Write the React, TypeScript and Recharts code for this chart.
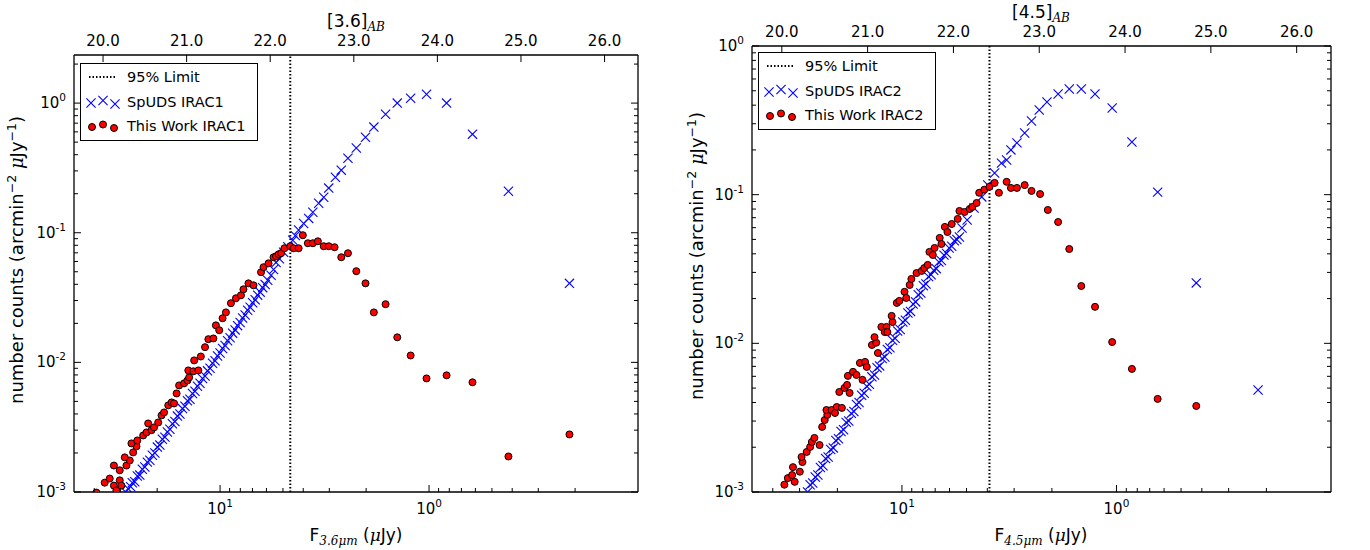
import { ScatterChart, Scatter, XAxis, YAxis, ReferenceLine, Legend } from 'recharts'

const SANS = '"DejaVu Sans", sans-serif'
const MATH = '"DejaVu Serif", serif'

// x values are AB magnitudes (top axis), y values are number counts (arcmin^-2 uJy^-1)
const spudsIrac1: [number, number][] = [
  [20.27, 0.001], [20.3, 0.00106], [20.33, 0.0011], [20.35, 0.00118], [20.38, 0.0012], [20.41, 0.00133],
  [20.44, 0.00135], [20.47, 0.0015], [20.5, 0.00156], [20.53, 0.0017], [20.56, 0.00176], [20.59, 0.00192],
  [20.62, 0.002], [20.65, 0.00222], [20.68, 0.0023], [20.71, 0.00255], [20.74, 0.00265], [20.77, 0.0029],
  [20.8, 0.00305], [20.83, 0.00336], [20.86, 0.0035], [20.89, 0.00385], [20.92, 0.004], [20.95, 0.0044],
  [20.98, 0.00458], [21.01, 0.00505], [21.04, 0.0052], [21.07, 0.00575], [21.1, 0.00598], [21.13, 0.00655],
  [21.16, 0.0069], [21.19, 0.0075], [21.22, 0.00785], [21.25, 0.0086], [21.28, 0.009], [21.31, 0.00985],
  [21.34, 0.0103], [21.37, 0.0112], [21.4, 0.0118], [21.43, 0.0128], [21.46, 0.0135], [21.49, 0.0147],
  [21.52, 0.0155], [21.55, 0.0168], [21.58, 0.0178], [21.61, 0.0192], [21.64, 0.0203], [21.67, 0.022],
  [21.7, 0.0232], [21.73, 0.0252], [21.76, 0.0266], [21.79, 0.0288], [21.82, 0.0304], [21.85, 0.033],
  [21.88, 0.0348], [21.91, 0.0377], [21.94, 0.0398], [21.97, 0.043], [22.01, 0.047], [22.04, 0.052],
  [22.07, 0.059], [22.11, 0.063], [22.16, 0.0707], [22.21, 0.078], [22.27, 0.0875], [22.3, 0.095],
  [22.34, 0.105], [22.4, 0.118], [22.46, 0.129], [22.51, 0.144], [22.58, 0.169], [22.64, 0.188],
  [22.7, 0.221], [22.78, 0.268], [22.85, 0.304], [22.93, 0.376], [23.03, 0.45], [23.14, 0.546],
  [23.24, 0.653], [23.38, 0.82], [23.52, 1.0], [23.68, 1.09], [23.87, 1.17], [24.11, 1.0],
  [24.42, 0.576], [24.85, 0.209], [25.58, 0.0407],
]

const oursIrac1: [number, number][] = [
  [19.92, 0.00099], [20.02, 0.00118], [20.08, 0.00127], [20.13, 0.00112], [20.16, 0.00103], [20.2, 0.00123],
  [20.22, 0.00112], [20.13, 0.0016], [20.2, 0.00147], [20.28, 0.0016], [20.32, 0.00175], [20.26, 0.00185],
  [20.36, 0.00202], [20.4, 0.00225], [20.34, 0.00237], [20.41, 0.0025], [20.48, 0.00273], [20.54, 0.00338],
  [20.52, 0.00288], [20.58, 0.003], [20.61, 0.00315], [20.66, 0.00344], [20.7, 0.0039], [20.73, 0.00411],
  [20.78, 0.00466], [20.82, 0.00491], [20.85, 0.00482], [20.88, 0.00576], [20.91, 0.00664], [20.97, 0.00689],
  [21.01, 0.00726], [21.03, 0.00766], [21.02, 0.00867], [21.08, 0.00853], [21.14, 0.00867], [21.09, 0.01036],
  [21.17, 0.0111], [21.22, 0.0131], [21.26, 0.0151], [21.32, 0.0153], [21.35, 0.0193], [21.39, 0.0177],
  [21.43, 0.0219], [21.47, 0.0243], [21.53, 0.0286], [21.59, 0.0312], [21.65, 0.0329], [21.68, 0.0366],
  [21.74, 0.0407], [21.8, 0.0393], [21.89, 0.0496], [21.92, 0.0542], [21.98, 0.0581], [22.04, 0.0647],
  [22.07, 0.0659], [22.1, 0.0682], [22.13, 0.0695], [22.17, 0.0759], [22.24, 0.0787], [22.28, 0.0759],
  [22.34, 0.0759], [22.39, 0.0957], [22.45, 0.083], [22.51, 0.083], [22.57, 0.0859], [22.64, 0.0787],
  [22.7, 0.0787], [22.77, 0.0773], [22.85, 0.0647], [22.93, 0.0695], [23.03, 0.0505], [23.14, 0.0407],
  [23.24, 0.0243], [23.38, 0.0281], [23.52, 0.0156], [23.68, 0.0113], [23.87, 0.00752], [24.11, 0.00794],
  [24.42, 0.00702], [24.85, 0.00188], [25.58, 0.00278],
]

const spudsIrac2: [number, number][] = [
  [20.3, 0.001], [20.33, 0.00112], [20.36, 0.00115], [20.39, 0.00126], [20.42, 0.0013], [20.45, 0.00146],
  [20.48, 0.0015], [20.51, 0.00168], [20.54, 0.00172], [20.57, 0.00193], [20.6, 0.00198], [20.63, 0.00222],
  [20.66, 0.00228], [20.69, 0.00255], [20.72, 0.00262], [20.75, 0.00294], [20.78, 0.003], [20.81, 0.00338],
  [20.84, 0.00348], [20.87, 0.00388], [20.9, 0.004], [20.93, 0.00448], [20.96, 0.00462], [20.99, 0.00515],
  [21.02, 0.0053], [21.05, 0.00595], [21.08, 0.00612], [21.11, 0.00685], [21.14, 0.00705], [21.17, 0.0079],
  [21.2, 0.0081], [21.23, 0.0091], [21.26, 0.00935], [21.29, 0.0105], [21.32, 0.0108], [21.35, 0.0121],
  [21.38, 0.0124], [21.41, 0.0139], [21.44, 0.0143], [21.47, 0.016], [21.5, 0.0164], [21.53, 0.0184],
  [21.56, 0.019], [21.59, 0.0212], [21.62, 0.0218], [21.65, 0.0244], [21.68, 0.0251], [21.71, 0.0281],
  [21.74, 0.0289], [21.77, 0.031], [21.8, 0.0318], [21.83, 0.0352], [21.86, 0.036], [21.89, 0.0392],
  [21.92, 0.0402], [21.95, 0.0438], [21.98, 0.045], [22.01, 0.049], [22.04, 0.05], [22.07, 0.0519],
  [22.1, 0.0597], [22.16, 0.0676], [22.24, 0.0814], [22.33, 0.0966], [22.4, 0.116], [22.48, 0.14],
  [22.56, 0.163], [22.62, 0.171], [22.67, 0.2], [22.74, 0.223], [22.83, 0.26], [22.91, 0.313],
  [23.0, 0.371], [23.09, 0.42], [23.22, 0.475], [23.35, 0.514], [23.49, 0.514], [23.65, 0.475],
  [23.85, 0.383], [24.08, 0.226], [24.38, 0.104], [24.83, 0.0255], [25.55, 0.00486],
]

const oursIrac2: [number, number][] = [
  [20.03, 0.00112], [20.07, 0.00124], [20.12, 0.0013], [20.15, 0.00117], [20.13, 0.00147], [20.21, 0.00137],
  [20.24, 0.00159], [20.23, 0.00172], [20.29, 0.00186], [20.33, 0.00201], [20.35, 0.00217], [20.38, 0.00231],
  [20.44, 0.00207], [20.47, 0.00274], [20.5, 0.00305], [20.53, 0.0033], [20.52, 0.00356], [20.58, 0.00356],
  [20.64, 0.00373], [20.62, 0.0034], [20.7, 0.00368], [20.67, 0.00471], [20.73, 0.00501], [20.79, 0.00464],
  [20.76, 0.00525], [20.77, 0.00604], [20.83, 0.00643], [20.87, 0.00613], [20.91, 0.00738], [20.97, 0.0075],
  [20.99, 0.00694], [20.94, 0.00568], [21.05, 0.00975], [21.1, 0.0101], [21.08, 0.011], [21.12, 0.00861],
  [21.16, 0.0129], [21.22, 0.0129], [21.2, 0.0119], [21.23, 0.0119], [21.29, 0.0139], [21.28, 0.0153],
  [21.34, 0.0187], [21.37, 0.0193], [21.43, 0.0222], [21.45, 0.0202], [21.49, 0.0247], [21.51, 0.0271],
  [21.57, 0.0297], [21.63, 0.0307], [21.66, 0.0321], [21.7, 0.0337], [21.72, 0.0412], [21.78, 0.0438],
  [21.76, 0.0393], [21.84, 0.0512], [21.86, 0.0466], [21.9, 0.0607], [21.93, 0.0561], [21.98, 0.0635],
  [22.05, 0.0687], [22.07, 0.0777], [22.13, 0.0765], [22.19, 0.0802], [22.22, 0.0826], [22.27, 0.0879],
  [22.3, 0.103], [22.36, 0.108], [22.42, 0.113], [22.48, 0.12], [22.53, 0.103], [22.62, 0.122],
  [22.67, 0.111], [22.74, 0.111], [22.83, 0.116], [22.91, 0.106], [23.01, 0.101], [23.1, 0.0789],
  [23.22, 0.0655], [23.35, 0.0431], [23.49, 0.0243], [23.65, 0.0176], [23.85, 0.0102], [24.08, 0.00673],
  [24.38, 0.00423], [24.83, 0.00379],
]

// 95% completeness limits, AB mag
const limitIrac1 = 22.24
const limitIrac2 = 22.42

const magTicks = [20, 21, 22, 23, 24, 25, 26]
const fluxTicks = [0.2, 0.3, 0.4, 0.5, 0.6, 0.7, 0.8, 0.9, 1, 2, 3, 4, 5, 6, 7, 8, 9, 10, 20, 30, 40]
const countTicks1 = [
  0.001, 0.002, 0.003, 0.004, 0.005, 0.006, 0.007, 0.008, 0.009,
  0.01, 0.02, 0.03, 0.04, 0.05, 0.06, 0.07, 0.08, 0.09,
  0.1, 0.2, 0.3, 0.4, 0.5, 0.6, 0.7, 0.8, 0.9, 1, 2,
]
const countTicks2 = countTicks1.filter(v => v <= 1)

const FLUX_MIN = 0.1
const FLUX_MAX = 50

const magToFlux = (m: number) => 10 ** ((23.9 - m) / 2.5)
const toRows = (pts: [number, number][]) => pts.map(([m, n]) => ({ f: magToFlux(m), n }))

// the magnitude axis shares the flux scale: its ticks sit at the flux of each magnitude
const magAtFlux = (v: number) => magTicks.find(m => Math.abs(magToFlux(m) - v) < 1e-9)
const allFluxTicks = [...fluxTicks, ...magTicks.map(magToFlux)]

type Plot = { l: number; r: number; t: number; b: number }

const isMajor = (v: number) => Math.abs(Math.log10(v) - Math.round(Math.log10(v))) < 1e-6

const Pow = ({ x, y, v, anchor }: { x: number; y: number; v: number; anchor: 'middle' | 'end' }) => (
  <text x={x} y={y} textAnchor={anchor} fontFamily={SANS} fontSize={15} fill="#000">
    10<tspan dy={-7} fontSize={10.5}>{Math.round(Math.log10(v))}</tspan>
  </text>
)

const fluxTick = (p: any, plot: Plot) => {
  const v = p.payload.value
  const mag = magAtFlux(v)
  if (mag !== undefined) {
    return (
      <g>
        <line x1={p.x} x2={p.x} y1={plot.t} y2={plot.t + 7} stroke="#000" />
        <text x={p.x} y={plot.t - 9} textAnchor="middle" fontFamily={SANS} fontSize={15} fill="#000">
          {mag.toFixed(1)}
        </text>
      </g>
    )
  }
  const major = isMajor(v)
  return (
    <g>
      <line x1={p.x} x2={p.x} y1={plot.b} y2={plot.b - (major ? 7 : 4)} stroke="#000" />
      {major && <Pow x={p.x} y={plot.b + 22} v={v} anchor="middle" />}
    </g>
  )
}

// left ticks, mirrored on the right spine like matplotlib
const countTick = (p: any, plot: Plot) => {
  const v = p.payload.value
  const major = isMajor(v)
  const len = major ? 7 : 4
  return (
    <g>
      <line x1={plot.l} x2={plot.l + len} y1={p.y} y2={p.y} stroke="#000" />
      <line x1={plot.r} x2={plot.r - len} y1={p.y} y2={p.y} stroke="#000" />
      {major && <Pow x={plot.l - 8} y={p.y + 5} v={v} anchor="end" />}
    </g>
  )
}

const XMark = (props: any) => {
  const { cx, cy } = props
  const s = 4.6
  return (
    <path
      d={`M${cx - s},${cy - s}L${cx + s},${cy + s}M${cx - s},${cy + s}L${cx + s},${cy - s}`}
      stroke="#0000ff"
      strokeWidth={1.1}
      fill="none"
    />
  )
}

const RedDot = (props: any) => (
  <circle cx={props.cx} cy={props.cy} r={3.5} fill="#ff0000" stroke="#000" strokeWidth={1} />
)

const LegendBox = ({ irac }: { irac: string }) => {
  const offs = [1, -1.5, 2]
  const row = { display: 'flex', alignItems: 'center', height: 24.5 } as const
  return (
    <div
      style={{
        border: '1px solid #000', background: '#fff', fontFamily: SANS, fontSize: 14.5,
        color: '#000', padding: '1px 12px 1px 4px', lineHeight: 1,
      }}
    >
      <div style={row}>
        <svg width={42} height={20}>
          <line x1={4} x2={30} y1={10} y2={10} stroke="#000" strokeWidth={2} strokeDasharray="1.5 2" />
        </svg>
        <span>95% Limit</span>
      </div>
      <div style={row}>
        <svg width={42} height={20}>
          {[5, 17, 29].map((x, i) => (
            <XMark key={i} cx={x + 1} cy={10 + offs[i]} />
          ))}
        </svg>
        <span>SpUDS {irac}</span>
      </div>
      <div style={row}>
        <svg width={42} height={20}>
          {[6, 17, 28].map((x, i) => (
            <RedDot key={i} cx={x + 1} cy={10 + offs[i]} />
          ))}
        </svg>
        <span>This Work {irac}</span>
      </div>
    </div>
  )
}

const panels = [
  {
    key: 'irac1', left: 0, width: 685, plot: { l: 74, r: 638, t: 55, b: 492 }, yMax: 2.35,
    counts: countTicks1, spuds: spudsIrac1, ours: oursIrac1, limit: limitIrac1, irac: 'IRAC1',
    legend: { x: 80, y: 63 },
  },
  {
    key: 'irac2', left: 685, width: 685, plot: { l: 67, r: 646, t: 46, b: 492 }, yMax: 1,
    counts: countTicks2, spuds: spudsIrac2, ours: oursIrac2, limit: limitIrac2, irac: 'IRAC2',
    legend: { x: 73, y: 52 },
  },
]

const frame = { stroke: '#000', strokeWidth: 1.3 }

const Panel = ({ cfg }: { cfg: (typeof panels)[number] }) => {
  const { plot } = cfg
  return (
    <div style={{ position: 'absolute', left: cfg.left, top: 0 }}>
      <ScatterChart width={cfg.width} height={550} margin={{ top: 0, right: 0, bottom: 0, left: 0 }}>
        <XAxis
          xAxisId="f" dataKey="f" type="number" scale="log" domain={[FLUX_MIN, FLUX_MAX]} reversed
          allowDataOverflow ticks={allFluxTicks} interval={0} tickLine={false}
          axisLine={frame} height={550 - plot.b} tick={(p: any) => fluxTick(p, plot)}
        />
        <XAxis xAxisId="top" orientation="top" type="number" tick={false} tickLine={false} axisLine={frame} height={plot.t} />
        <YAxis
          yAxisId="n" dataKey="n" type="number" scale="log" domain={[0.001, cfg.yMax]}
          allowDataOverflow ticks={cfg.counts} interval={0} tickLine={false}
          axisLine={frame} width={plot.l} tick={(p: any) => countTick(p, plot)}
        />
        <YAxis
          yAxisId="r" orientation="right" type="number" tick={false} tickLine={false}
          axisLine={frame} width={cfg.width - plot.r}
        />
        <ReferenceLine
          xAxisId="f" yAxisId="n" x={magToFlux(cfg.limit)}
          stroke="#000" strokeWidth={2} strokeDasharray="1.5 2"
        />
        <Scatter
          xAxisId="f" yAxisId="n" name={`SpUDS ${cfg.irac}`} data={toRows(cfg.spuds)}
          shape={XMark} isAnimationActive={false}
        />
        <Scatter
          xAxisId="f" yAxisId="n" name={`This Work ${cfg.irac}`} data={toRows(cfg.ours)}
          shape={RedDot} isAnimationActive={false}
        />
        <Legend
          layout="vertical" align="center" verticalAlign="middle"
          wrapperStyle={{ left: cfg.legend.x, top: cfg.legend.y, width: 'auto', height: 'auto', margin: 0 }}
          content={() => <LegendBox irac={cfg.irac} />}
        />
      </ScatterChart>
    </div>
  )
}

// axis titles drawn on top of both panels
const Labels = () => (
  <svg width={1370} height={550} style={{ position: 'absolute', left: 0, top: 0, pointerEvents: 'none' }}>
    {[
      { band: '3.6', cx: 356, ylab: 23, cyl: 260, top: 55 },
      { band: '4.5', cx: 1041, ylab: 703, cyl: 256, top: 46 },
    ].map(l => (
      <g key={l.band} fontFamily={SANS} fill="#000">
        <text x={l.cx} y={l.top - 28} textAnchor="middle" fontSize={17}>
          [{l.band}]<tspan dy={4} fontSize={12} fontFamily={MATH} fontStyle="italic">AB</tspan>
        </text>
        <text x={l.cx} y={541} textAnchor="middle" fontSize={17}>
          F<tspan dy={4} fontSize={12} fontFamily={MATH} fontStyle="italic">{l.band}μm</tspan>
          <tspan dy={-4}> (</tspan>
          <tspan fontFamily={MATH} fontStyle="italic">μ</tspan>Jy)
        </text>
        <text
          x={l.ylab} y={l.cyl} transform={`rotate(-90 ${l.ylab} ${l.cyl})`}
          textAnchor="middle" fontSize={18}
        >
          number counts (arcmin<tspan dy={-7} fontSize={12.5}>−2</tspan>
          <tspan dy={7}> </tspan>
          <tspan fontFamily={MATH} fontStyle="italic">μ</tspan>Jy<tspan dy={-7} fontSize={12.5}>−1</tspan>
          <tspan dy={7}>)</tspan>
        </text>
      </g>
    ))}
  </svg>
)

const App = () => (
  <div style={{ position: 'absolute', left: 0, top: 0, width: 1370, height: 550, background: '#fff' }}>
    {panels.map(p => (
      <Panel key={p.key} cfg={p} />
    ))}
    <Labels />
  </div>
)

export default App
